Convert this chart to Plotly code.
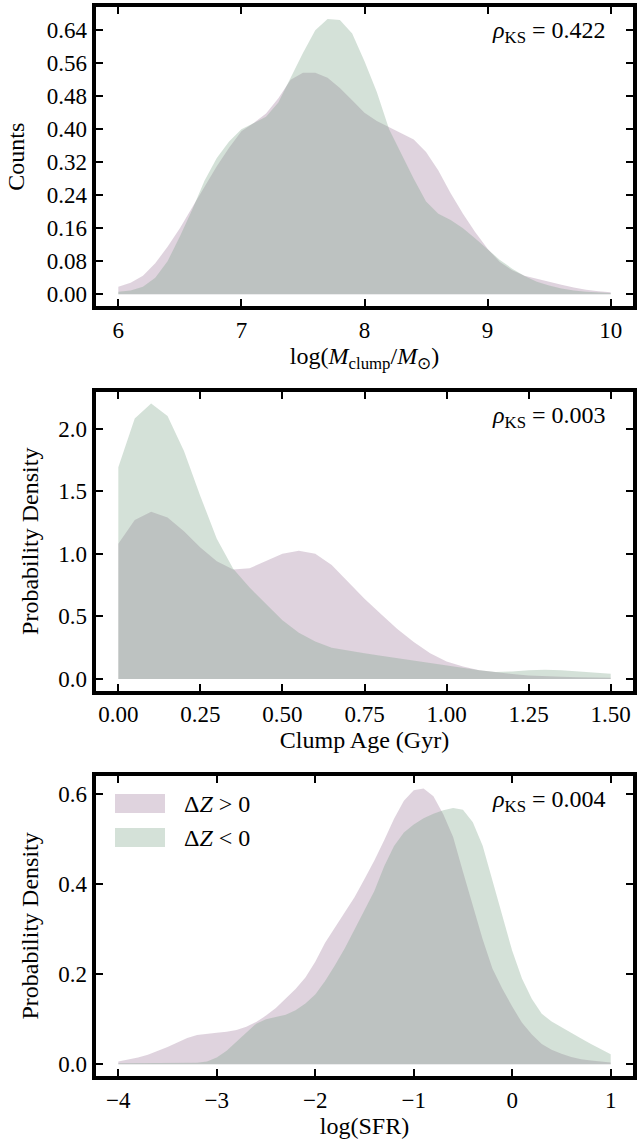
import plotly.graph_objects as go

# ---------------- data ----------------
mass_grid = [6.0, 6.1, 6.2, 6.3, 6.4, 6.5, 6.6, 6.7, 6.8, 6.9,
             7.0, 7.1, 7.2, 7.3, 7.4, 7.5, 7.6, 7.7, 7.8, 7.9,
             8.0, 8.1, 8.2, 8.3, 8.4, 8.5, 8.6, 8.7, 8.8, 8.9,
             9.0, 9.1, 9.2, 9.3, 9.4, 9.5, 9.6, 9.7, 9.8, 9.9, 10.0]
mass_pos = [0.018, 0.028, 0.045, 0.075, 0.115, 0.16, 0.21, 0.26, 0.31, 0.355,
            0.395, 0.415, 0.438, 0.475, 0.52, 0.537, 0.537, 0.525, 0.50, 0.47,
            0.44, 0.42, 0.405, 0.39, 0.375, 0.345, 0.30, 0.245, 0.195, 0.15,
            0.11, 0.078, 0.058, 0.045, 0.037, 0.03, 0.023, 0.016, 0.011, 0.007, 0.005]
mass_neg = [0.006, 0.009, 0.018, 0.04, 0.08, 0.14, 0.205, 0.275, 0.33, 0.37,
            0.40, 0.415, 0.43, 0.465, 0.525, 0.585, 0.64, 0.667, 0.665, 0.632,
            0.565, 0.49, 0.40, 0.34, 0.28, 0.225, 0.195, 0.18, 0.16, 0.135,
            0.108, 0.083, 0.062, 0.044, 0.03, 0.021, 0.014, 0.009, 0.006, 0.004, 0.003]

age_grid = [0.00, 0.05, 0.10, 0.15, 0.20, 0.25, 0.30, 0.35, 0.40, 0.45,
            0.50, 0.55, 0.60, 0.65, 0.70, 0.75, 0.80, 0.85, 0.90, 0.95,
            1.00, 1.05, 1.10, 1.15, 1.20, 1.25, 1.30, 1.35, 1.40, 1.45, 1.50]
age_pos = [1.08, 1.27, 1.335, 1.29, 1.18, 1.05, 0.94, 0.875, 0.885, 0.94,
           1.00, 1.025, 1.00, 0.91, 0.775, 0.64, 0.52, 0.40, 0.295, 0.205,
           0.14, 0.10, 0.07, 0.052, 0.04, 0.029, 0.022, 0.018, 0.014, 0.012, 0.01]
age_neg = [1.69, 2.08, 2.20, 2.10, 1.82, 1.46, 1.12, 0.88, 0.73, 0.60,
           0.47, 0.37, 0.30, 0.25, 0.225, 0.205, 0.185, 0.165, 0.145, 0.125,
           0.105, 0.09, 0.07, 0.057, 0.06, 0.07, 0.075, 0.07, 0.06, 0.05, 0.042]

sfr_grid = [-4.0, -3.9, -3.8, -3.7, -3.6, -3.5, -3.4, -3.3, -3.2, -3.1,
            -3.0, -2.9, -2.8, -2.7, -2.6, -2.5, -2.4, -2.3, -2.2, -2.1,
            -2.0, -1.9, -1.8, -1.7, -1.6, -1.5, -1.4, -1.3, -1.2, -1.1,
            -1.0, -0.9, -0.8, -0.7, -0.6, -0.5, -0.4, -0.3, -0.2, -0.1,
            0.0, 0.1, 0.2, 0.3, 0.4, 0.5, 0.6, 0.7, 0.8, 0.9, 1.0]
sfr_pos = [0.006, 0.01, 0.015, 0.021, 0.029, 0.038, 0.048, 0.058, 0.065, 0.068,
           0.07, 0.072, 0.076, 0.083, 0.094, 0.108, 0.125, 0.146, 0.167, 0.193,
           0.228, 0.27, 0.305, 0.338, 0.372, 0.412, 0.453, 0.498, 0.546, 0.586,
           0.609, 0.613, 0.596, 0.556, 0.505, 0.428, 0.35, 0.278, 0.212, 0.168,
           0.128, 0.092, 0.066, 0.045, 0.032, 0.023, 0.016, 0.011, 0.008, 0.006, 0.004]
sfr_neg = [0.002, 0.002, 0.002, 0.002, 0.002, 0.002, 0.002, 0.003, 0.003, 0.006,
           0.015, 0.03, 0.05, 0.072, 0.09, 0.10, 0.105, 0.11, 0.12, 0.135,
           0.155, 0.185, 0.22, 0.258, 0.30, 0.342, 0.385, 0.44, 0.485, 0.515,
           0.533, 0.547, 0.557, 0.565, 0.57, 0.566, 0.538, 0.486, 0.405, 0.33,
           0.252, 0.19, 0.145, 0.112, 0.095, 0.082, 0.07, 0.057, 0.045, 0.033, 0.022]

ks_values = ["0.422", "0.003", "0.004"]
series_names = ["Δ<i>Z</i> &gt; 0", "Δ<i>Z</i> &lt; 0"]
x_titles = ["log(<i>M</i><sub>clump</sub>/<i>M</i><sub>⊙</sub>)",
            "Clump Age (Gyr)", "log(SFR)"]
y_titles = ["Counts", "Probability Density", "Probability Density"]

# ---------------- styling / layout ----------------
W, H = 638, 1142
FONT = "Liberation Serif"
FS_TICK = 23
FS_TEXT = 24
PURPLE = "rgba(148,108,145,0.3)"
GREEN = "rgba(112,155,125,0.3)"
LW = 4
X_LEFT, X_RIGHT = 93.7, 635.3
PANELS_PX = [(5.3, 308.0), (389.7, 692.8), (773.8, 1078.0)]
X_RANGES = [(5.8, 10.2), (-0.075, 1.575), (-4.25, 1.25)]
Y_RANGES = [(-0.0334, 0.7004), (-0.11, 2.31), (-0.03075, 0.6458)]
X_DTICK = [1, 0.25, 1]
X_FMT = ["d", ".2f", "d"]
Y_DTICK = [0.08, 0.5, 0.2]
Y_FMT = [".2f", ".1f", ".1f"]
Y_STANDOFF = [16, 14, 14]


def inset(r, length_px):
    d = (r[1] - r[0]) * (LW / 2) / length_px
    return [r[0] + d, r[1] - d]


fig = go.Figure()
panels = [(mass_grid, mass_pos, mass_neg),
          (age_grid, age_pos, age_neg),
          (sfr_grid, sfr_pos, sfr_neg)]

for i, (gx, pos, neg) in enumerate(panels):
    sfx = "" if i == 0 else str(i + 1)
    for vals, col, name in ((pos, PURPLE, series_names[0]), (neg, GREEN, series_names[1])):
        fig.add_trace(go.Scatter(x=gx, y=vals, mode="lines", fill="tozeroy",
                                 fillcolor=col, line=dict(width=0, color=col),
                                 name=name, showlegend=False, hoverinfo="skip",
                                 xaxis="x" + sfx, yaxis="y" + sfx))

layout = dict(width=W, height=H, margin=dict(l=0, r=0, t=0, b=0),
              paper_bgcolor="white", plot_bgcolor="white", showlegend=False,
              font=dict(family=FONT, size=FS_TICK, color="black"))

axis_common = dict(showgrid=False, zeroline=False, showline=True, linewidth=LW,
                   linecolor="black", mirror="ticks", ticks="inside", ticklen=7,
                   tickwidth=1.6, tickcolor="black",
                   tickfont=dict(family=FONT, size=FS_TICK, color="black"))

xw = X_RIGHT - X_LEFT
for i, (top, bot) in enumerate(PANELS_PX):
    sfx = "" if i == 0 else str(i + 1)
    yh = bot - top
    layout["xaxis" + sfx] = dict(
        axis_common, anchor="y" + sfx,
        domain=[(X_LEFT + LW / 2) / W, (X_RIGHT - LW / 2) / W],
        range=inset(X_RANGES[i], xw), tick0=0, dtick=X_DTICK[i],
        tickformat=X_FMT[i],
        title=dict(text=x_titles[i], font=dict(family=FONT, size=FS_TEXT), standoff=3))
    layout["yaxis" + sfx] = dict(
        axis_common, anchor="x" + sfx,
        domain=[1 - (bot - LW / 2) / H, 1 - (top + LW / 2) / H],
        range=inset(Y_RANGES[i], yh), tick0=0, dtick=Y_DTICK[i],
        tickformat=Y_FMT[i],
        title=dict(text=y_titles[i], font=dict(family=FONT, size=FS_TEXT),
                   standoff=Y_STANDOFF[i]))

annotations = []
for i, (top, bot) in enumerate(PANELS_PX):
    annotations.append(dict(
        text="<i>ρ</i><sub>KS</sub> = " + ks_values[i], xref="paper", yref="paper",
        x=608 / W, y=1 - (top + 27) / H, xanchor="right", yanchor="middle",
        showarrow=False, font=dict(family=FONT, size=FS_TEXT, color="black")))

# legend (inside bottom panel, upper left)
shapes = []
for j, (col, (y0, y1)) in enumerate(zip((PURPLE, GREEN), ((794, 813), (828, 847)))):
    shapes.append(dict(type="rect", xref="paper", yref="paper",
                       x0=115 / W, x1=165 / W, y0=1 - y1 / H, y1=1 - y0 / H,
                       fillcolor=col, line=dict(width=0)))
    annotations.append(dict(text=series_names[j], xref="paper", yref="paper",
                            x=182 / W, y=1 - (y0 + y1) / 2 / H, xanchor="left",
                            yanchor="middle", showarrow=False,
                            font=dict(family=FONT, size=FS_TEXT, color="black")))

layout["annotations"] = annotations
layout["shapes"] = shapes
fig.update_layout(**layout)
fig.write_html("out.html")
